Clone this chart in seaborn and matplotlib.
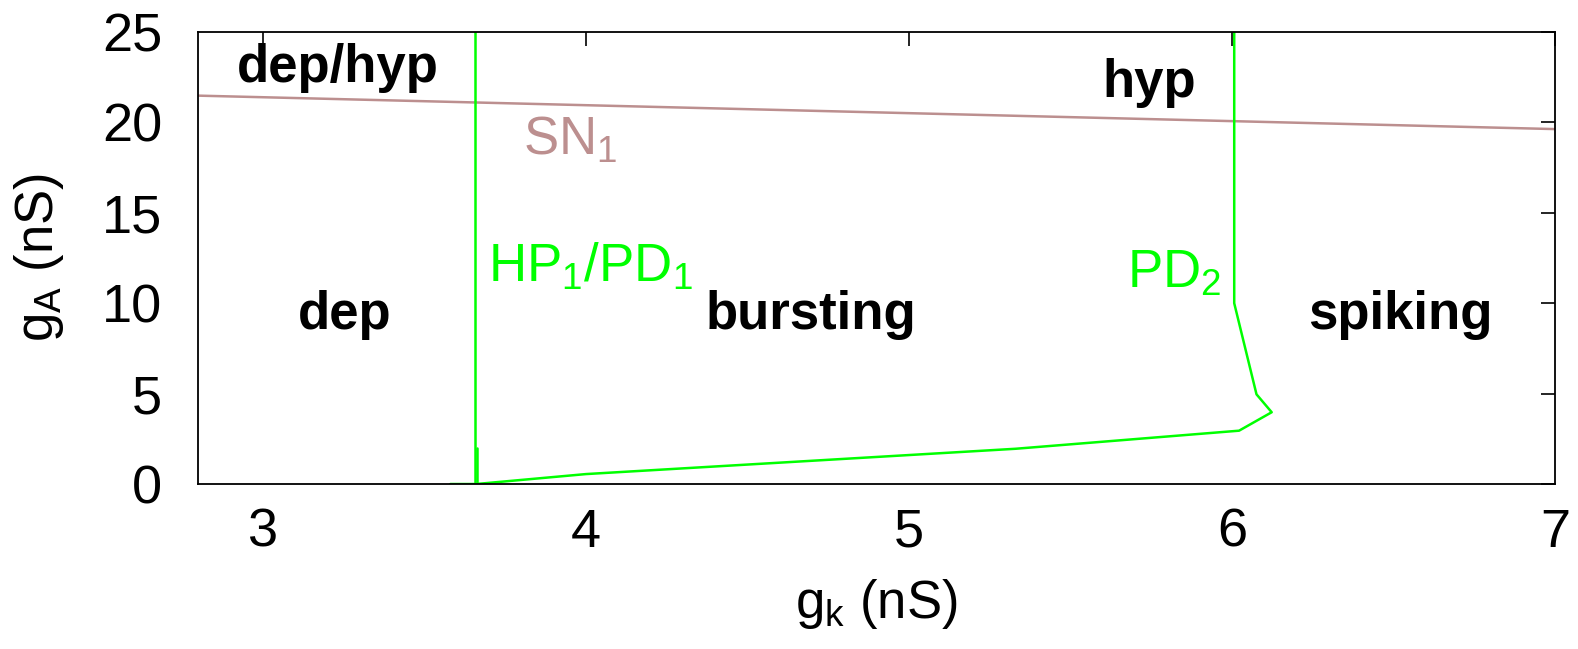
import seaborn as sns
import matplotlib.pyplot as plt
import pandas as pd

# donnees
sn1_gk = [2.8, 7.0]
sn1_ga = [21.48, 19.63]

hp1_gk = [3.657, 3.657]
hp1_ga = [0.0, 25.0]
hp1_step_gk = [3.663, 3.663]
hp1_step_ga = [0.0, 2.0]

pd2_gk = [3.58, 3.66, 4.0, 5.33, 6.022, 6.123, 6.076, 6.007, 6.007]
pd2_ga = [0.0, 0.0, 0.55, 1.95, 2.95, 3.97, 4.96, 10.0, 25.0]

xticks = [3, 4, 5, 6, 7]
yticks = [0, 5, 10, 15, 20, 25]

green = '#00ff00'
brown = '#bc8f8f'

sns.set_theme(style='white')
plt.rcParams['font.family'] = ['Liberation Sans', 'DejaVu Sans']
plt.rcParams['mathtext.fontset'] = 'custom'
plt.rcParams['mathtext.rm'] = 'Liberation Sans'
plt.rcParams['mathtext.default'] = 'regular'

fig = plt.figure(figsize=(15.78, 6.49), dpi=100)
ax = fig.add_axes([0.1257, 0.2542, 0.8597, 0.6965])

def draw(xs, ys, color):
    df = pd.DataFrame({'gk': xs, 'ga': ys})
    sns.lineplot(data=df, x='gk', y='ga', sort=False, estimator=None,
                 color=color, lw=1.8, ax=ax)

draw(sn1_gk, sn1_ga, brown)
draw(hp1_gk, hp1_ga, green)
draw(hp1_step_gk, hp1_step_ga, green)
draw(pd2_gk, pd2_ga, green)

ax.set_xlim(2.8, 7)
ax.set_ylim(0, 25)
ax.set_xticks(xticks)
ax.set_yticks(yticks)
ax.tick_params(direction='in', length=10, width=1.2, top=True, right=True,
               labelsize=39, colors='black')
ax.tick_params(axis='x', pad=17)
ax.tick_params(axis='y', pad=26)
for s in ax.spines.values():
    s.set_color('black')
    s.set_linewidth(1.3)

ax.set_xlabel('g$_k$ (nS)', fontsize=38, labelpad=14, color='black')
ax.set_ylabel('g$_A$ (nS)', fontsize=38, labelpad=26, color='black')

# etiquettes des regions
bold = dict(fontsize=38, fontweight='bold', color='black', va='baseline')
ax.text(3.231, 22.25, 'dep/hyp', ha='center', **bold)
ax.text(5.60, 21.4, 'hyp', ha='left', **bold)
ax.text(3.254, 8.6, 'dep', ha='center', **bold)
ax.text(4.697, 8.6, 'bursting', ha='center', **bold)
ax.text(6.52, 8.6, 'spiking', ha='center', **bold)

ax.text(3.805, 18.2, 'SN$_1$', fontsize=38, color=brown, ha='left', va='baseline')
ax.text(3.697, 11.17, 'HP$_1$/PD$_1$', fontsize=38, color=green, ha='left', va='baseline')
ax.text(5.675, 10.84, 'PD$_2$', fontsize=38, color=green, ha='left', va='baseline')

fig.savefig('out.png', dpi=100)
